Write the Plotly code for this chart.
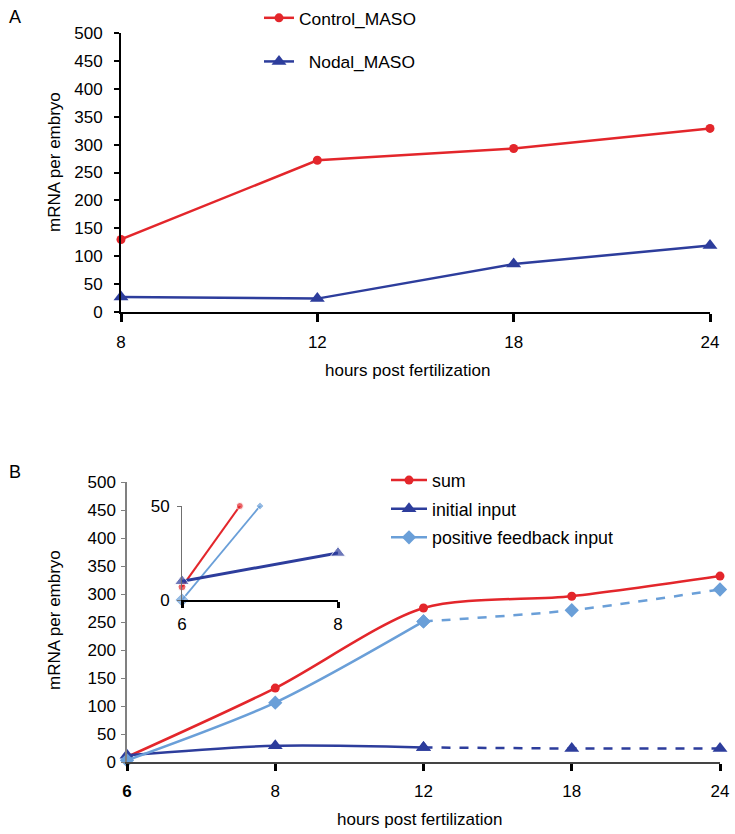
import plotly.graph_objects as go

# ---------------- data ----------------
hours_A = ["8", "12", "18", "24"]
control_maso = [130, 272, 293, 329]
nodal_maso = [27, 24, 86, 119]

hours_B = ["6", "8", "12", "18", "24"]
sum_vals = [9, 132, 275, 296, 332]
initial_input = [12, 29, 26, 24, 24]
pos_feedback = [3, 106, 251, 271, 308]
solid_end = 3  # points 0..2 solid, 2..4 dashed (for the two inputs)

inset_hours = ["6", "8"]
inset_sum = [7, 123]
inset_init = [10, 25]
inset_pos = [0, 100]
inset_top = 50

yticks_A = list(range(0, 501, 50))
yticks_B = list(range(0, 501, 50))

RED = "#E3262B"
DBLUE = "#2D3D9C"
LBLUE = "#6A9FD8"
FONT = "Liberation Sans, Arial, sans-serif"

W, H = 735, 834


def fx(v):
    return v / W


def fy(v):
    return 1 - v / H


fig = go.Figure()

# ---------- Panel A ----------
fig.add_trace(go.Scatter(x=hours_A, y=control_maso, name="Control_MASO", mode="lines+markers",
                         line=dict(color=RED, width=2.5), marker=dict(symbol="circle", size=9, color=RED),
                         xaxis="x", yaxis="y", cliponaxis=False, legend="legend", legendgroup="a1"))
fig.add_trace(go.Scatter(x=hours_A, y=nodal_maso, name="  Nodal_MASO", mode="lines+markers",
                         line=dict(color=DBLUE, width=2.5), marker=dict(symbol="triangle-up", size=13, color=DBLUE),
                         xaxis="x", yaxis="y", cliponaxis=False, legend="legend", legendgroup="a2"))

# ---------- Panel B ----------
fig.add_trace(go.Scatter(x=hours_B, y=sum_vals, name="sum", mode="lines+markers",
                         line=dict(color=RED, width=2.5, shape="spline", smoothing=0.8),
                         marker=dict(symbol="circle", size=9, color=RED),
                         xaxis="x2", yaxis="y2", cliponaxis=False, legend="legend2", legendgroup="b1"))
fig.add_trace(go.Scatter(x=hours_B[:solid_end], y=initial_input[:solid_end], name="initial input",
                         mode="lines+markers",
                         line=dict(color=DBLUE, width=2.5, shape="spline", smoothing=0.8),
                         marker=dict(symbol="triangle-up", size=13, color=DBLUE),
                         xaxis="x2", yaxis="y2", cliponaxis=False, legend="legend2", legendgroup="b2"))
fig.add_trace(go.Scatter(x=hours_B[solid_end - 1:], y=initial_input[solid_end - 1:], showlegend=False,
                         mode="lines+markers", line=dict(color=DBLUE, width=2.5, dash="dash"),
                         marker=dict(symbol="triangle-up", size=13, color=DBLUE),
                         xaxis="x2", yaxis="y2", cliponaxis=False, legendgroup="b2"))
fig.add_trace(go.Scatter(x=hours_B[:solid_end], y=pos_feedback[:solid_end], name="positive feedback input",
                         mode="lines+markers",
                         line=dict(color=LBLUE, width=2.5, shape="spline", smoothing=0.8),
                         marker=dict(symbol="diamond", size=11, color=LBLUE),
                         xaxis="x2", yaxis="y2", cliponaxis=False, legend="legend2", legendgroup="b3"))
fig.add_trace(go.Scatter(x=hours_B[solid_end - 1:], y=pos_feedback[solid_end - 1:], showlegend=False,
                         mode="lines+markers",
                         line=dict(color=LBLUE, width=2.5, dash="dash", shape="spline", smoothing=0.8),
                         marker=dict(symbol="diamond", size=11, color=LBLUE),
                         xaxis="x2", yaxis="y2", cliponaxis=False, legendgroup="b3"))


# ---------- Inset ----------
def clip_end(y0, y1, top):
    """fractional x (0..1) where a straight segment reaches 'top'"""
    if y1 <= top:
        return 1.0, y1
    return (top - y0) / (y1 - y0), top


inset_specs = [
    (inset_pos, LBLUE, "diamond", 11, 1.8, 6),
    (inset_sum, RED, "circle", 8, 2.0, 7),
    (inset_init, DBLUE, "triangle-up", 13, 3.0, 13),
]
for vals, col, sym, msize, lw, endsize in inset_specs:
    fig.add_trace(go.Scatter(x=[0, 1], y=vals, mode="lines", line=dict(color=col, width=lw),
                             xaxis="x3", yaxis="y3", showlegend=False, cliponaxis=True))
    f, yend = clip_end(vals[0], vals[1], inset_top)
    fig.add_trace(go.Scatter(x=[0, f], y=[vals[0], yend], mode="markers",
                             marker=dict(symbol=sym, size=[msize, endsize], color=col),
                             xaxis="x3", yaxis="y3", showlegend=False, cliponaxis=False))

# ---------- axes ----------
tickfont = dict(family=FONT, size=17, color="black")
fig.update_layout(
    width=W, height=H, margin=dict(l=0, r=0, t=0, b=0, pad=0, autoexpand=False),
    paper_bgcolor="white", plot_bgcolor="white",
    font=dict(family=FONT, size=17, color="black"),
    xaxis=dict(domain=[fx(121), fx(710)], anchor="y", type="category",
               range=[0, len(hours_A) - 1], showgrid=False, zeroline=False, automargin=False,
               showline=True, linecolor="black", linewidth=2,
               ticks="outside", ticklen=8, tickwidth=3, tickcolor="black",
               tickfont=tickfont, ticklabelstandoff=6),
    yaxis=dict(domain=[fy(312), fy(33)], anchor="x", range=[0, 500], automargin=False,
               tickvals=yticks_A, showgrid=False, zeroline=False,
               showline=True, linecolor="black", linewidth=2,
               ticks="outside", ticklen=5, tickwidth=1.5, tickcolor="black",
               tickfont=tickfont, ticklabelstandoff=8),
    xaxis2=dict(domain=[fx(127), fx(720)], anchor="y2", type="category",
                range=[0, len(hours_B) - 1], showgrid=False, zeroline=False, automargin=False,
                showline=True, linecolor="#444444", linewidth=2,
                ticks="outside", ticklen=7, tickwidth=3, tickcolor="black",
                tickvals=hours_B, ticktext=["<b>" + hours_B[0] + "</b>"] + hours_B[1:],
                tickfont=tickfont, ticklabelstandoff=6),
    yaxis2=dict(domain=[fy(762), fy(482)], anchor="x2", range=[0, 500], automargin=False,
                tickvals=yticks_B, showgrid=False, zeroline=False,
                showline=True, linecolor="#808080", linewidth=1.5,
                ticks="outside", ticklen=4, tickwidth=1, tickcolor="#808080",
                tickfont=tickfont, ticklabelstandoff=2),
    xaxis3=dict(domain=[fx(182), fx(338)], anchor="y3", range=[0, 1], automargin=False,
                tickvals=[0, 1], ticktext=inset_hours, showgrid=False, zeroline=False,
                showline=True, linecolor="black", linewidth=2,
                ticks="outside", ticklen=6, tickwidth=3, tickcolor="black",
                tickfont=tickfont, ticklabelstandoff=2),
    yaxis3=dict(domain=[fy(600), fy(506)], anchor="x3", range=[0, inset_top], automargin=False,
                tickvals=[0, inset_top], showgrid=False, zeroline=False,
                showline=True, linecolor="#707070", linewidth=1,
                ticks="outside", ticklen=4, tickwidth=1, tickcolor="#707070",
                tickfont=tickfont, ticklabelstandoff=4),
    legend=dict(x=fx(259), y=fy(0), xanchor="left", yanchor="top",
                font=dict(family=FONT, size=17.4, color="black"), bgcolor="rgba(0,0,0,0)",
                tracegroupgap=18, itemwidth=30),
    legend2=dict(x=fx(386), y=fy(462), xanchor="left", yanchor="top",
                 font=dict(family=FONT, size=17.8, color="black"), bgcolor="rgba(0,0,0,0)",
                 tracegroupgap=2.5, itemwidth=36),
)

ann = [
    ("A", 15, 17, 0, 18),
    ("B", 15, 472, 0, 18),
    ("mRNA per embryo", 54, 162, -90, 17),
    ("mRNA per embryo", 54, 620, -90, 17),
    ("hours post fertilization", 407, 370, 0, 17),
    ("hours post fertilization", 419, 819, 0, 17),
]
for text, x, y, ang, size in ann:
    fig.add_annotation(text=text, xref="paper", yref="paper", x=fx(x), y=fy(y),
                       showarrow=False, xanchor="center", yanchor="middle", textangle=ang,
                       font=dict(family=FONT, size=size, color="black"))

# remove the default page margin so the figure sits at the window's top-left corner
reset_css = ("document.body.style.margin='0';document.body.style.padding='0';"
             "document.body.style.overflow='hidden';"
             "document.documentElement.style.overflow='hidden';")
fig.write_html("out.html", post_script=reset_css, config={"displayModeBar": False})
